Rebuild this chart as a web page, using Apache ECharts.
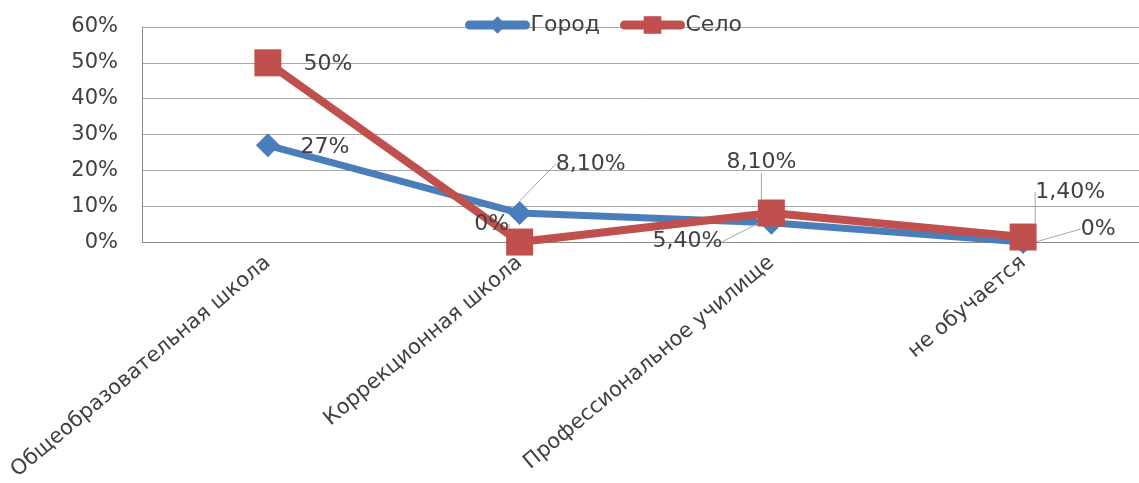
<!DOCTYPE html>
<html>
<head>
<meta charset="utf-8">
<script src="https://cdn.jsdelivr.net/npm/echarts@6/dist/echarts.min.js"></script>
<style>html,body{margin:0;padding:0;background:#fff;overflow:hidden}#w{width:1139px;height:483px;overflow:hidden;position:relative}#c{width:1149px;height:483px;position:absolute;left:0;top:0}</style>
</head>
<body>
<div id="w"><div id="c"></div></div>
<script>
const categories = ['Общеобразовательная школа', 'Коррекционная школа', 'Профессиональное училище', 'не обучается'];
const cityName = 'Город';
const villageName = 'Село';
const cityValues = [27, 8.1, 5.4, 0];
const villageValues = [50, 0, 8.1, 1.4];
const yTicks = [0, 10, 20, 30, 40, 50, 60];

// label offsets (dx, dy) relative to point, styling only
const cityOffsets = [[57, 2], [71, -49], [-84, 19], [75, -13]];
const villageOffsets = [[60, 1], [-28, -18], [-10, -51], [47, -45]];
const cityLeader = [false, true, true, true];
const villageLeader = [false, true, true, true];

const FONT = 'DejaVu Sans';
const TXT = '#404040';

function fmt(v) {
  if (Math.round(v) === v) return v + '%';
  return v.toFixed(2).replace('.', ',') + '%';
}

const chart = echarts.init(document.getElementById('c'));
function mkData(vals, leaders) {
  return vals.map((v, i) => ({ value: v, labelLine: { show: leaders[i] } }));
}
chart.setOption({
  animation: false,
  textStyle: { fontFamily: FONT },
  legend: {
    top: 9,
    left: 460,
    itemWidth: 56,
    itemHeight: 22,
    itemGap: 20,
    textStyle: { fontSize: 22, color: TXT, fontFamily: FONT },
    lineStyle: { width: 9, cap: 'round' },
    data: [
      { name: cityName, itemStyle: { color: '#4A7EBB' } },
      { name: villageName, itemStyle: { color: '#C0504D' } }
    ]
  },
  grid: { left: 142, top: 27, right: 0, bottom: 236, containLabel: false },
  xAxis: {
    type: 'category',
    data: categories,
    boundaryGap: true,
    axisLine: { lineStyle: { color: '#8c8c8c', width: 1 } },
    axisTick: { show: false },
    axisLabel: {
      rotate: 40, fontSize: 21, color: TXT, margin: 18, fontFamily: FONT,
      interval: 0
    }
  },
  yAxis: {
    type: 'value',
    min: yTicks[0], max: yTicks[yTicks.length - 1], interval: 10,
    axisLine: { show: true, lineStyle: { color: '#8c8c8c' } },
    axisTick: { show: false },
    splitLine: { lineStyle: { color: '#a6a6a6', width: 1 } },
    axisLabel: { formatter: '{value}%', fontSize: 21, color: TXT, margin: 24, fontFamily: FONT }
  },
  series: [
    {
      name: cityName, type: 'line', data: mkData(cityValues, cityLeader),
      symbol: 'diamond', symbolSize: 24,
      lineStyle: { color: '#4A7EBB', width: 7, cap: 'round' },
      itemStyle: { color: '#4A7EBB' },
      z: 2,
      label: { show: true, position: 'inside', formatter: p => fmt(p.value), fontSize: 22, color: TXT, fontFamily: FONT },
      labelLine: { lineStyle: { color: '#a6a6a6', width: 1 } },
      labelLayout: p => ({ dx: cityOffsets[p.dataIndex][0], dy: cityOffsets[p.dataIndex][1] })
    },
    {
      name: villageName, type: 'line', data: mkData(villageValues, villageLeader),
      symbol: 'rect', symbolSize: 27,
      lineStyle: { color: '#C0504D', width: 8, cap: 'round' },
      itemStyle: { color: '#C0504D' },
      z: 3,
      label: { show: true, position: 'inside', formatter: p => fmt(p.value), fontSize: 22, color: TXT, fontFamily: FONT },
      labelLine: { lineStyle: { color: '#a6a6a6', width: 1 } },
      labelLayout: p => ({ dx: villageOffsets[p.dataIndex][0], dy: villageOffsets[p.dataIndex][1] })
    }
  ]
});
</script>
</body>
</html>
